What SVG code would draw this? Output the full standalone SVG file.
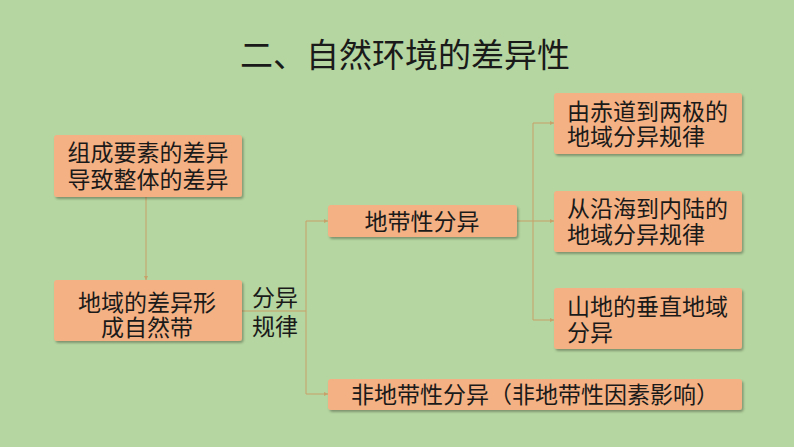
<svg xmlns="http://www.w3.org/2000/svg" width="794" height="447" viewBox="0 0 794 447">
<style>
.box{fill:#f4b183;filter:url(#sh)}
.t{font-family:"Noto Sans CJK SC","Noto Sans",sans-serif;font-size:23px;fill:#1a1a1a}
.c{text-anchor:middle}
.ln{fill:none;stroke:#c8a06a;stroke-width:1;marker-end:url(#ar)}
.ln2{fill:none;stroke:#c8a06a;stroke-width:1}
</style>
<defs>
<filter id="sh" x="-10%" y="-20%" width="120%" height="150%">
<feDropShadow dx="1.5" dy="2" stdDeviation="1.2" flood-color="#000" flood-opacity="0.3"/>
</filter>
<marker id="ar" markerWidth="4" markerHeight="4" refX="4" refY="2" orient="auto" markerUnits="userSpaceOnUse">
<path d="M0,0 L4,2 L0,4 Z" fill="#c8a06a"/>
</marker>
</defs>
<rect width="794" height="447" fill="#b5d6a0"/>
<text x="405" y="67" class="c" font-family="&quot;Noto Sans CJK SC&quot;,sans-serif" font-size="33" fill="#1a1a1a">二、自然环境的差异性</text>
<g id="connectors">
<path class="ln" d="M146,197 V280"/>
<path class="ln2" d="M242,311 H306"/>
<path class="ln" d="M306,311 V221 H328"/>
<path class="ln" d="M306,311 V394 H328"/>
<path class="ln2" d="M517,221 H533"/>
<path class="ln" d="M533,221 V123 H554"/>
<path class="ln" d="M533,221 H554"/>
<path class="ln" d="M533,221 V320 H554"/>
</g>
<g id="n1"><rect class="box" x="54" y="135" width="188" height="62" rx="3"/>
<text class="t c" x="148" y="161">组成要素的差异</text><text class="t c" x="148" y="188">导致整体的差异</text></g>
<g id="n2"><rect class="box" x="54" y="280" width="188" height="61" rx="3"/>
<text class="t c" x="147" y="311">地域的差异形</text><text class="t c" x="147" y="336">成自然带</text></g>
<g id="lbl"><text class="t" x="252" y="306">分异</text><text class="t" x="252" y="335">规律</text></g>
<g id="n3"><rect class="box" x="328" y="205" width="189" height="32" rx="3"/>
<text class="t c" x="422" y="230">地带性分异</text></g>
<g id="n4"><rect class="box" x="554" y="93" width="188" height="61" rx="3"/>
<text class="t" x="567" y="120">由赤道到两极的</text><text class="t" x="567" y="145">地域分异规律</text></g>
<g id="n5"><rect class="box" x="554" y="191" width="188" height="61" rx="3"/>
<text class="t" x="567" y="217">从沿海到内陆的</text><text class="t" x="567" y="243">地域分异规律</text></g>
<g id="n6"><rect class="box" x="554" y="288" width="188" height="61" rx="3"/>
<text class="t" x="567" y="315">山地的垂直地域</text><text class="t" x="567" y="341">分异</text></g>
<g id="n7"><rect class="box" x="328" y="379" width="414" height="31" rx="3"/>
<text class="t c" x="535" y="403">非地带性分异（非地带性因素影响）</text></g>
</svg>
